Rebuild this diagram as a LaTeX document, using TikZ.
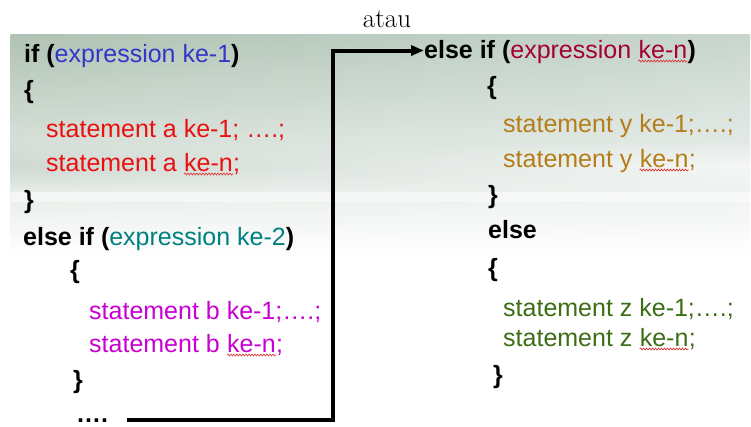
\documentclass[tikz,border=0pt]{standalone}
\usepackage{fontspec}
\usetikzlibrary{arrows.meta,decorations.pathmorphing,fadings}
\newfontfamily\slidefont{Liberation Sans}
% text colours of the code fragments
\definecolor{exa}{RGB}{50,55,200}
\definecolor{sta}{RGB}{235,15,15}
\definecolor{exb}{RGB}{0,128,128}
\definecolor{stb}{RGB}{200,0,210}
\definecolor{exn}{RGB}{165,0,50}
\definecolor{sty}{RGB}{180,125,25}
\definecolor{stz}{RGB}{60,110,20}
\definecolor{spellred}{RGB}{220,40,40}
% slide background
\definecolor{bgleft}{RGB}{176,195,180}
\definecolor{bgright}{RGB}{200,214,205}
\definecolor{bgband}{RGB}{196,206,200}
\tikzfading[name=softband,top color=transparent!100,bottom color=transparent!100,middle color=transparent!45]
\tikzset{
  txt/.style={anchor=base west,inner sep=0pt,font=\slidefont\fontsize{25}{30}\selectfont},
  kw/.style={anchor=base west,inner sep=0pt,font=\slidefont\fontsize{25}{30}\selectfont\bfseries},
  spell/.style={draw=spellred,line width=0.6pt,decorate,decoration={snake,amplitude=1pt,segment length=3pt}},
  conn/.style={line width=4pt,line join=miter,-{Triangle[length=13pt,width=10pt]}}
}
\begin{document}
\begin{tikzpicture}[x=1pt,y=-1pt]
\useasboundingbox (0,0) rectangle (751,426);
% background: grey-green at the top, fading to white
\fill[white] (11,34) rectangle (751,426);
\shade[left color=bgleft,right color=bgright,path fading=south] (11,34) rectangle (751,255);
\shade[left color=bgband,right color=white,path fading=softband] (11,140) rectangle (751,192);
\fill[white,opacity=0.5] (11,192) rectangle (751,202);

% heading
\node[anchor=base,inner sep=0pt,font=\fontsize{27}{32}\selectfont] (title) at (387,27) {atau};

% left column
\node[txt] (if1) at (24,62) {\textbf{if (}\textcolor{exa}{expression ke-1}\textbf{)}};
\node[kw] (lb1) at (24,98) {\{};
\node[txt,text=sta] (sa1) at (46,137) {statement a ke-1; \dots.;};
\node[txt,text=sta] (sa2) at (46,171) {statement a};
\node[txt,text=sta] (sa2k) at ([xshift=6.95pt]sa2.base east) {ke-n};
\node[txt,text=sta] (sa2e) at (sa2k.base east) {;};
\node[kw] (rb1) at (24,208) {\}};
\node[txt] (elif2) at (23,245) {\textbf{else if (}\textcolor{exb}{expression ke-2}\textbf{)}};
\node[kw] (lb2) at (70,278) {\{};
\node[txt,text=stb] (sb1) at (89,319) {statement b ke-1;\dots.;};
\node[txt,text=stb] (sb2) at (89,352) {statement b};
\node[txt,text=stb] (sb2k) at ([xshift=6.95pt]sb2.base east) {ke-n};
\node[txt,text=stb] (sb2e) at (sb2k.base east) {;};
\node[kw] (rb2) at (73,388) {\}};
\node[kw] (dots) at (76,422) {\dots.};

% right column
\node[txt] (elifn) at (424,58) {\textbf{else if (}\textcolor{exn}{expression}};
\node[txt,text=exn] (elifnk) at ([xshift=6.95pt]elifn.base east) {ke-n};
\node[kw] (elifne) at (elifnk.base east) {)};
\node[kw] (lb3) at (487,94) {\{};
\node[txt,text=sty] (sy1) at (503,132) {statement y ke-1;\dots.;};
\node[txt,text=sty] (sy2) at (503,167) {statement y};
\node[txt,text=sty] (sy2k) at ([xshift=6.95pt]sy2.base east) {ke-n};
\node[txt,text=sty] (sy2e) at (sy2k.base east) {;};
\node[kw] (rb3) at (488,203) {\}};
\node[kw] (else) at (488,238) {else};
\node[kw] (lb4) at (488,276) {\{};
\node[txt,text=stz] (sz1) at (503,316) {statement z ke-1;\dots.;};
\node[txt,text=stz] (sz2) at (503,346) {statement z};
\node[txt,text=stz] (sz2k) at ([xshift=6.95pt]sz2.base east) {ke-n};
\node[txt,text=stz] (sz2e) at (sz2k.base east) {;};
\node[kw] (rb4) at (493,383) {\}};

% spelling marks under the unknown word
\foreach \w in {sa2k,sb2k,elifnk,sy2k,sz2k}
  \draw[spell] ([yshift=-3pt]\w.base west) -- ([yshift=-3pt]\w.base east);

% jump from the trailing dots to the last else-if
\coordinate (bend) at (333,50.5);
\draw[conn] ([xshift=19pt]dots.east) -| (bend) -- (bend -| elifn.west);
\end{tikzpicture}
\end{document}
